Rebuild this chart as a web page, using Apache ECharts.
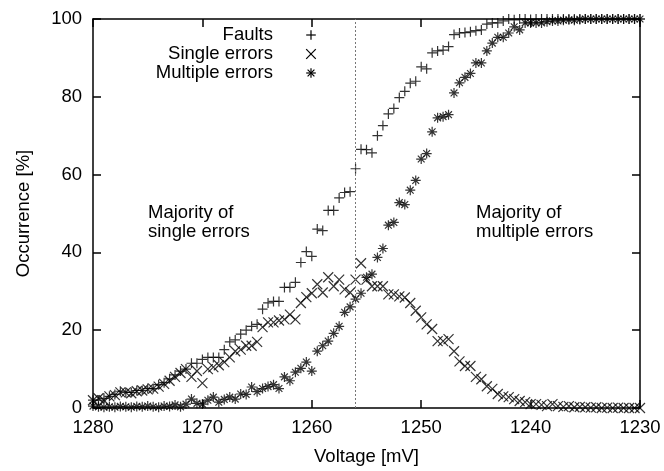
<!DOCTYPE html>
<html>
<head>
<meta charset="utf-8">
<script src="https://cdn.jsdelivr.net/npm/echarts@6/dist/echarts.min.js"></script>
<style>
html,body{margin:0;padding:0;background:#fff;}
#chart{width:664px;height:471px;}
</style>
</head>
<body>
<div id="chart"></div>
<script>
// ---------- data ----------
var voltage = [1280,1279.5,1279,1278.5,1278,1277.5,1277,1276.5,1276,1275.5,1275,1274.5,1274,1273.5,1273,1272.5,1272,1271.5,1271,1270.5,1270,1269.5,1269,1268.5,1268,1267.5,1267,1266.5,1266,1265.5,1265,1264.5,1264,1263.5,1263,1262.5,1262,1261.5,1261,1260.5,1260,1259.5,1259,1258.5,1258,1257.5,1257,1256.5,1256,1255.5,1255,1254.5,1254,1253.5,1253,1252.5,1252,1251.5,1251,1250.5,1250,1249.5,1249,1248.5,1248,1247.5,1247,1246.5,1246,1245.5,1245,1244.5,1244,1243.5,1243,1242.5,1242,1241.5,1241,1240.5,1240,1239.5,1239,1238.5,1238,1237.5,1237,1236.5,1236,1235.5,1235,1234.5,1234,1233.5,1233,1232.5,1232,1231.5,1231,1230.5,1230];

var faults = [2,2,2.5,3,3.5,4.3,4,4,4.5,4.5,5,5,6,6.5,7.5,8.5,
  9.5,10,11.5,11.5,12.5,13,13,13,15,17,17.5,19,20,21,21.5,
  25.4,27,27.4,27.4,31,31,32.3,37.4,40.2,39,46,45.6,50.8,50.8,54,55.4,55.6,
  61.5,66.5,66.4,65.6,70,72.6,75.6,77,79.8,81.4,83.5,84,87.7,87.2,91.3,91.8,92,92.9,
  96,96.4,96.5,96.7,97,97.2,98.7,99,99,99.5,
  100,99.8,100,100,99.9,100,100,100,100,100,100,100,100,100,100,100,100,100,100,100,100,100,100,100,100];

var singleErrors = [2,2.5,2,3,3.3,4,4,3.8,4.3,4.5,4.8,5,5.5,6.2,7,8,
  9,10,8,9.5,6.4,10,10.5,11,11.8,13,14.6,15,16,16,17,
  20.8,22,22,22.5,22.8,24,22.8,27,28.5,29.5,31.8,29.7,33.6,31.3,33,30.5,29.7,
  33,37.2,33,31.3,31.3,31.3,29.2,29.2,28.7,28.4,27,25,23.3,21.5,20.3,17.2,17.2,17.7,
  14.6,12,10.8,10.8,8,7.4,5.6,4.9,3.6,3,
  2.8,2.3,1.8,1.5,1,1,0.8,0.5,1,0.5,0.3,0.5,0.2,0.3,0.2,0.1,0.2,0,0.1,0,0.1,0,0,0,0];

var multipleErrors = [0.5,0.3,0.2,0.3,0.2,0.4,0.3,0.2,0.4,0.3,0.5,0.3,0.2,0.5,
  0.4,0.8,0.3,1.0,2.3,1.2,1.0,2.0,2.8,1.5,2.2,2.8,2.3,3.6,3.5,5.4,4.2,
  5,5.5,6,5,8,7,9.2,10.2,11.8,9.5,14.6,16,17.2,19.2,21,24.6,26,
  28,29.5,33.6,34.4,38.7,41,47,47.7,52.8,52.3,56,58.5,64,65.4,71,74.6,74.9,75.4,
  81,83.6,85,86,88.7,88.7,91.8,93.8,95.3,95.3,96.4,98,97.2,99,99,99,99,
  99.3,99.5,99.5,99.7,99.8,99.7,99.9,100,100,100,100,100,100,100,100,100,100,100];

var seriesNames = ['Faults', 'Single errors', 'Multiple errors'];
var dividerVoltage = 1256;
var annotationLeft = 'Majority of\nsingle errors';
var annotationRight = 'Majority of\nmultiple errors';

// ---------- styling ----------
var FONT = '"Liberation Sans", Arial, Helvetica, sans-serif';
var FS = 18.5;
var SYM_PLUS = 'path://M0,5L10,5M5,0L5,10';
var SYM_CROSS = 'path://M0,0L10,10M0,10L10,0';
var SYM_STAR = 'path://M0,5L10,5M5,0L5,10M1.6,1.6L8.4,8.4M1.6,8.4L8.4,1.6';

function zip(xs, ys) { var out = []; for (var i = 0; i < xs.length; i++) out.push([xs[i], ys[i]]); return out; }

var chart = echarts.init(document.getElementById('chart'), null, {renderer: 'canvas'});

var axisLineStyle = {color: '#000', width: 1.5};
function plainNum(v) { return String(v); }
function xAx(pos, showLabel) {
  return {
    type: 'value', position: pos, min: 1230, max: 1280, interval: 10, inverse: true,
    axisLine: {show: true, onZero: false, lineStyle: axisLineStyle},
    axisTick: {show: true, inside: true, length: 8, lineStyle: axisLineStyle},
    axisLabel: {show: showLabel, color: '#000', fontSize: FS, fontFamily: FONT, margin: 10, formatter: plainNum},
    splitLine: {show: false},
    name: showLabel ? 'Voltage [mV]' : '', nameLocation: 'middle', nameGap: 39,
    nameTextStyle: {color: '#000', fontSize: FS, fontFamily: FONT}
  };
}
function yAx(pos, showLabel) {
  return {
    type: 'value', position: pos, min: 0, max: 100, interval: 20,
    axisLine: {show: true, onZero: false, lineStyle: axisLineStyle},
    axisTick: {show: true, inside: true, length: 8, lineStyle: axisLineStyle},
    axisLabel: {show: showLabel, color: '#000', fontSize: FS, fontFamily: FONT, margin: 11, formatter: plainNum},
    splitLine: {show: false},
    name: showLabel ? 'Occurrence [%]' : '', nameLocation: 'middle', nameGap: 60,
    nameTextStyle: {color: '#000', fontSize: FS, fontFamily: FONT}
  };
}

function scatter(name, vals, sym) {
  return {
    type: 'scatter', name: name, xAxisIndex: 0, yAxisIndex: 0,
    data: zip(voltage, vals), symbol: sym, symbolSize: 10,
    itemStyle: {color: 'rgba(0,0,0,0)', borderColor: '#000', borderWidth: 1.2},
    emphasis: {disabled: true}, silent: true
  };
}

var s0 = scatter(seriesNames[0], faults, SYM_PLUS);
s0.markLine = {
  silent: true, symbol: ['none', 'none'], label: {show: false},
  lineStyle: {type: [2, 2], color: '#777', width: 1},
  data: [{xAxis: dividerVoltage}]
};

var txtStyle = function (t, x, y, align) {
  return {type: 'text', x: x, y: y, silent: true,
    style: {text: t, font: FS + 'px ' + FONT, fill: '#000', align: align, verticalAlign: 'middle',
            textAlign: align, textVerticalAlign: 'middle', lineHeight: 19}};
};
function ln(x1, y1, x2, y2) {
  return {type: 'line', silent: true, shape: {x1: x1, y1: y1, x2: x2, y2: y2}, style: {stroke: '#000', lineWidth: 1.2}};
}
var lx = 311, r = 4.8, d = 3.4;
var legendY = [35, 54, 73];

var graphics = [
  txtStyle(seriesNames[0], 273, legendY[0], 'right'),
  txtStyle(seriesNames[1], 273, legendY[1], 'right'),
  txtStyle(seriesNames[2], 273, legendY[2], 'right'),
  ln(lx - r, legendY[0], lx + r, legendY[0]), ln(lx, legendY[0] - r, lx, legendY[0] + r),
  ln(lx - r, legendY[1] - r, lx + r, legendY[1] + r), ln(lx - r, legendY[1] + r, lx + r, legendY[1] - r),
  ln(lx - r, legendY[2], lx + r, legendY[2]), ln(lx, legendY[2] - r, lx, legendY[2] + r),
  ln(lx - d, legendY[2] - d, lx + d, legendY[2] + d), ln(lx - d, legendY[2] + d, lx + d, legendY[2] - d),
  {type: 'text', x: 148, y: 203, silent: true,
   style: {text: annotationLeft, font: FS + 'px ' + FONT, fill: '#000', align: 'left', verticalAlign: 'top', lineHeight: 19}},
  {type: 'text', x: 476, y: 203, silent: true,
   style: {text: annotationRight, font: FS + 'px ' + FONT, fill: '#000', align: 'left', verticalAlign: 'top', lineHeight: 19}}
];

chart.setOption({
  animation: false,
  backgroundColor: '#fff',
  grid: {left: 93, right: 24, top: 19, bottom: 62, containLabel: false},
  xAxis: [xAx('bottom', true), xAx('top', false)],
  yAxis: [yAx('left', true), yAx('right', false)],
  series: [
    s0,
    scatter(seriesNames[1], singleErrors, SYM_CROSS),
    scatter(seriesNames[2], multipleErrors, SYM_STAR)
  ],
  graphic: graphics
});
</script>
</body>
</html>
